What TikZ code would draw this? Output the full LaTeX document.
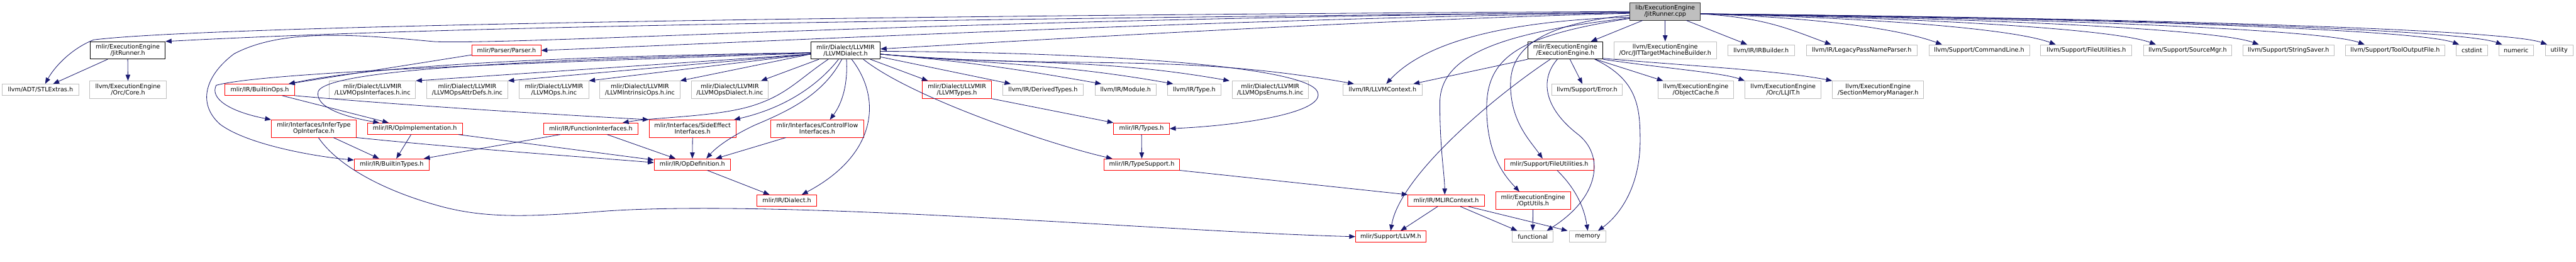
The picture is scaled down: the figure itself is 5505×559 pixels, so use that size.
\documentclass[tikz,border=0pt]{standalone}
\usepackage{fontspec}
\setmainfont{DejaVu Sans}
\usetikzlibrary{arrows.meta}
\definecolor{edgec}{HTML}{191970}
\definecolor{grey75}{HTML}{BFBFBF}

\begin{document}
\begin{tikzpicture}[x=1pt,y=-1pt,font=\fontsize{12.9}{13.3}\selectfont,
  box/.style={draw,line width=1.2pt,inner sep=0pt,align=center},
  gbox/.style={box,draw=grey75},
  rbox/.style={box,draw=red},
  bbox/.style={box,draw=black},
  dep/.style={draw=edgec,line width=1.1pt,-{Triangle[length=13pt,width=10pt]}}]
\useasboundingbox[fill=white] (0,0) rectangle (5505,559);
% nodes
\node[box,fill=grey75,draw=black!80,minimum width=151,minimum height=37] (r) at (3558.5,24.5) {lib/ExecutionEngine\\/JitRunner.cpp};
\foreach \n/\x/\y/\w/\t in {jrh/273/107.5/160/{mlir/ExecutionEngine\\/JitRunner.h},L/1807/107.5/148/{mlir/Dialect/LLVMIR\\/LLVMDialect.h},eeh/3345/107.5/160/{mlir/ExecutionEngine\\/ExecutionEngine.h}}
  \node[bbox,minimum width=\w,minimum height=37] (\n) at (\x,\y) {\t};
\foreach \n/\x/\y/\w/\h/\t in {jtmb/3558.5/107.5/219/37/{llvm/ExecutionEngine\\/Orc/JITTargetMachineBuilder.h},irb/3763.5/107.5/143/24/{llvm/IR/IRBuilder.h},
  lpnp/3978.5/107.5/237/24/{llvm/IR/LegacyPassNameParser.h},cl/4229.5/107.5/215/24/{llvm/Support/CommandLine.h},lfu/4458.5/107.5/195/24/{llvm/Support/FileUtilities.h},
  smgr/4675/107.5/188/24/{llvm/Support/SourceMgr.h},ss/4890.5/107.5/195/24/{llvm/Support/StringSaver.h},tof/5118.5/107.5/213/24/{llvm/Support/ToolOutputFile.h},
  cstd/5282.5/107.5/67/24/{cstdint},num/5377/107.5/74/24/{numeric},util/5469/107.5/60/24/{utility},
  stl/86.5/191.5/163/24/{llvm/ADT/STLExtras.h},core/273.5/191.5/163/37/{llvm/ExecutionEngine\\/Orc/Core.h},
  ifinc/796/191.5/184/37/{mlir/Dialect/LLVMIR\\/LLVMOpsInterfaces.h.inc},atinc/998.5/191.5/173/37/{mlir/Dialect/LLVMIR\\/LLVMOpsAttrDefs.h.inc},
  opinc/1184/191.5/148/37/{mlir/Dialect/LLVMIR\\/LLVMOps.h.inc},ininc/1367.5/191.5/171/37/{mlir/Dialect/LLVMIR\\/LLVMIntrinsicOps.h.inc},
  dlinc/1559.5/191.5/165/37/{mlir/Dialect/LLVMIR\\/LLVMOpsDialect.h.inc},dtyp/2229/191.5/172/24/{llvm/IR/DerivedTypes.h},
  mod/2405.5/191.5/131/24/{llvm/IR/Module.h},typ/2552/191.5/114/24/{llvm/IR/Type.h},eninc/2714.5/191.5/163/37/{mlir/Dialect/LLVMIR\\/LLVMOpsEnums.h.inc},
  lctx/2954.5/191.5/169/24/{llvm/IR/LLVMContext.h},err/3391.5/191.5/151/24/{llvm/Support/Error.h},ocache/3624/191.5/162/37/{llvm/ExecutionEngine\\/ObjectCache.h},
  lljit/3810.5/191.5/163/37/{llvm/ExecutionEngine\\/Orc/LLJIT.h},smm/4013.5/191.5/195/37/{llvm/ExecutionEngine\\/SectionMemoryManager.h},
  func/3275.5/505/87/24/{functional},mem/3393/505/78/24/{memory}}
  \node[gbox,minimum width=\w,minimum height=\h] (\n) at (\x,\y) {\t};
\foreach \n/\x/\y/\w/\h/\t in {parser/1082.5/107.5/147/24/{mlir/Parser/Parser.h},bops/555/191.5/148/24/{mlir/IR/BuiltinOps.h},
  ltyp/2045/191.5/148/37/{mlir/Dialect/LLVMIR\\/LLVMTypes.h},infer/670.5/274.5/181/37/{mlir/Interfaces/InferType\\OpInterface.h},
  opimpl/886.5/274.5/203/24/{mlir/IR/OpImplementation.h},funci/1262.5/274.5/201/24/{mlir/IR/FunctionInterfaces.h},
  side/1480/274.5/186/37/{mlir/Interfaces/SideEffect\\Interfaces.h},cflow/1746.5/274.5/199/37/{mlir/Interfaces/ControlFlow\\Interfaces.h},
  types/2439.5/274.5/119/24/{mlir/IR/Types.h},btyp/837/351/160/24/{mlir/IR/BuiltinTypes.h},opdef/1479.5/351/163/24/{mlir/IR/OpDefinition.h},
  tsup/2440/351/162/24/{mlir/IR/TypeSupport.h},mfu/3310.5/351/191/24/{mlir/Support/FileUtilities.h},dial/1681.5/428/127/24/{mlir/IR/Dialect.h},
  mctx/3090.5/428/163/24/{mlir/IR/MLIRContext.h},optu/3276/428/160/37/{mlir/ExecutionEngine\\/OptUtils.h},sllvm/2972/505/150/24/{mlir/Support/LLVM.h}}
  \node[rbox,minimum width=\w,minimum height=\h] (\n) at (\x,\y) {\t};
% JitRunner.cpp
\draw[dep] (r.west) .. controls (1500,35) and (400,60) .. (200,85) .. controls (150,105) and (115,145) .. ([xshift=10]stl.north);
\draw[dep] ([yshift=-2]r.west) .. controls (1500,45) and (800,65) .. (jrh.north east);
\draw[dep] ([yshift=-2]r.west) .. controls (2000,40) and (1150,95) .. (930,89) .. controls (750,72) and (600,62) .. (500,115)
  .. controls (440,160) and (420,220) .. (470,265) .. controls (530,310) and (680,335) .. ([yshift=-3]btyp.north west);
\draw[dep] ([yshift=-3]r.west) .. controls (2600,40) and (1500,95) .. (parser.east);
\draw[dep] ([yshift=-4]r.west) .. controls (3000,40) and (2300,80) .. ([yshift=3]L.east);
\draw[dep] ([yshift=-12]r.west) .. controls (3200,45) and (3040,95) .. ([xshift=8]lctx.north);
\draw[dep] ([yshift=-14]r.west) .. controls (3200,70) and (3077,120) .. (3077,220) .. controls (3077,320) and (3087,370) .. ([xshift=-3]mctx.north);
\draw[dep] ([yshift=-15]r.west) .. controls (3250,75) and (3177,120) .. (3177,230) .. controls (3177,330) and (3215,375) .. ([xshift=-29]optu.north);
\draw[dep] ([yshift=-8]r.west) .. controls (3300,50) and (3228,100) .. (3228,180) .. controls (3228,260) and (3270,300) .. ([xshift=-14]mfu.north);
\draw[dep] ([xshift=-48]r.south) -- ([xshift=55]eeh.north);
\draw[dep] (r.south) -- (jtmb.north);
\draw[dep] ([xshift=45]r.south) -- ([xshift=-30]irb.north);
\foreach \t/\e in {lpnp/3913,cl/4150,lfu/4393,smgr/4607,ss/4827,tof/5053,cstd/5255,num/5347,util/5443}
  \draw[dep] ([yshift=-5]r.east) .. controls ({(3634+\e)/2},38) and (\e-90,62) .. (\t.north -| \e,0);
% LLVMDialect.h
\draw[dep] ([yshift=-5]L.west) .. controls (1200,120) and (800,140) .. ([xshift=62]bops.north);
\draw[dep] ([yshift=-5]L.west) .. controls (1100,128) and (700,150) .. (680,195) .. controls (672,230) and (740,250) .. ([xshift=-76]opimpl.north);
\draw[dep] ([yshift=-6]L.west) .. controls (1100,135) and (560,155) .. (462,182) .. controls (448,210) and (490,238) .. (infer.north west);
\foreach \t in {ifinc,atinc,opinc,ininc} \draw[dep] ([yshift=-8]L.west) -- (\t.north east);
\draw[dep] ([xshift=-57]L.south) -- ([xshift=67]dlinc.north);
\draw[dep] ([xshift=-37]L.south) .. controls (1705,170) and (1680,205) .. (1600,228) .. controls (1520,250) and (1400,250) .. ([xshift=68]funci.north);
\draw[dep] ([xshift=-15]L.south) .. controls (1750,180) and (1680,230) .. ([xshift=-5]side.north east);
\draw[dep] ([xshift=-8]L.south) .. controls (1760,200) and (1690,235) .. (1613,267) .. controls (1560,292) and (1530,315) .. ([xshift=30]opdef.north);
\draw[dep] ([xshift=2]L.south) .. controls (1812,180) and (1800,220) .. ([xshift=27]cflow.north);
\draw[dep] ([xshift=13]L.south) .. controls (1885,210) and (1875,330) .. ([xshift=32]dial.north);
\draw[dep] ([xshift=53]L.south) -- ([xshift=-62]ltyp.north);
\draw[dep] ([yshift=-14]L.east) -- ([xshift=-69]dtyp.north);
\draw[dep] ([xshift=38]L.south) .. controls (1950,210) and (2250,310) .. ([xshift=-63]tsup.north);
\foreach \t/\d in {mod/-52,typ/-45,eninc/-87,lctx/-61}
  \draw[dep] ([yshift=-8]L.east) to[out=-5,in=170] ([xshift=\d]\t.north);
\draw[dep] ([yshift=-2]L.east) .. controls (2400,112) and (2790,145) .. (2815,195) .. controls (2838,240) and (2650,268) .. (types.east);
% the rest
\draw[dep] ([yshift=3]parser.south west) -- ([xshift=62]bops.north);
\draw[dep] ([xshift=-43]jrh.south) -- ([xshift=27]stl.north);
\draw[dep] (jrh.south) -- (core.north);
\draw[dep] ([xshift=48]bops.south) -- ([xshift=-56]opimpl.north);
\draw[dep] (bops.south east) .. controls (900,228) and (1200,245) .. (side.north west);
\draw[dep] ([xshift=42]infer.south) -- ([xshift=-27]btyp.north);
\draw[dep] (infer.south east) .. controls (1000,318) and (1250,335) .. ([yshift=4]opdef.west);
\draw[dep] ([xshift=10]infer.south) .. controls (715,345) and (800,400) .. (930,437) .. controls (1030,466) and (1120,464) .. (1300,450)
  .. controls (1700,425) and (2500,495) .. (sllvm.west);
\draw[dep] ([xshift=-8]opimpl.south) -- ([xshift=10]btyp.north);
\draw[dep] ([xshift=93]opimpl.south) -- ([yshift=-3]opdef.north west);
\draw[dep] ([xshift=-65]funci.south) -- ([xshift=-12]btyp.north east);
\draw[dep] ([xshift=35]funci.south) -- ([xshift=-36]opdef.north);
\draw[dep] (side.south) -- (opdef.north);
\draw[dep] ([xshift=-67]cflow.south) -- ([xshift=50]opdef.north);
\draw[dep] ([xshift=32]opdef.south) -- ([xshift=-37]dial.north);
\draw[dep] (ltyp.south east) -- (types.north west);
\draw[dep] (types.south) -- (tsup.north);
\draw[dep] (tsup.south east) -- (mctx.north west);
\draw[dep] ([xshift=-18]mctx.south) -- ([xshift=21]sllvm.north);
\draw[dep] ([xshift=30]mctx.south) -- ([xshift=11]func.north west);
\draw[dep] ([xshift=47]mctx.south) -- ([xshift=-43]mem.north);
\draw[dep] (optu.south) -- (func.north);
\draw[dep] ([xshift=17]mfu.south) .. controls (3365,400) and (3385,440) .. (mem.north);
% ExecutionEngine.h
\draw[dep] (eeh.south west) -- ([xshift=66]lctx.north);
\draw[dep] ([xshift=-32]eeh.south) .. controls (3180,215) and (2990,380) .. (sllvm.north);
\draw[dep] ([xshift=10]eeh.south) -- ([xshift=-10]err.north);
\draw[dep] ([xshift=65]eeh.south) -- ([xshift=-70]ocache.north);
\draw[dep] (eeh.south east) .. controls (3550,145) and (3680,155) .. (lljit.north west);
\draw[dep] ([yshift=2]eeh.south east) .. controls (3600,140) and (3800,150) .. (smm.north west);
\draw[dep] ([xshift=-17]eeh.south) .. controls (3290,170) and (3300,230) .. (3370,285) .. controls (3430,330) and (3420,420) .. ([xshift=30]func.north);
\draw[dep] ([xshift=63]eeh.south) .. controls (3500,170) and (3505,230) .. (3505,300) .. controls (3505,400) and (3460,460) .. ([xshift=22]mem.north);
\end{tikzpicture}
\end{document}
